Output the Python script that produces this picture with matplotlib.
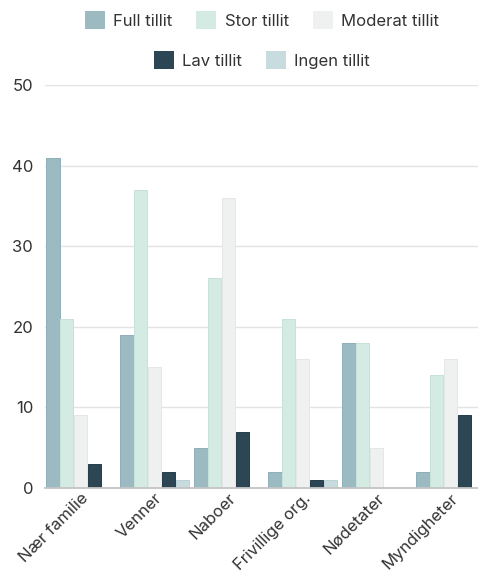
import matplotlib
matplotlib.use("Agg")
import matplotlib.pyplot as plt
from matplotlib.patches import Patch
import numpy as np

categories = ["Nær familie", "Venner", "Naboer", "Frivillige org.", "Nødetater", "Myndigheter"]
series_names = ["Full tillit", "Stor tillit", "Moderat tillit", "Lav tillit", "Ingen tillit"]
full = [41, 19, 5, 2, 18, 2]
stor = [21, 37, 26, 21, 18, 14]
moderat = [9, 15, 36, 16, 5, 16]
lav = [3, 2, 7, 1, 0, 9]
ingen = [0, 1, 0, 1, 0, 0]
y_ticks = [0, 10, 20, 30, 40, 50]

colors = ["#9bbac2", "#d3ebe3", "#eff1f0", "#2d4654", "#c8dcdf"]
edges = ["#8eafb8", "#c6e2d9", "#e4e7e6", "#263d4a", "#bbd2d6"]

plt.rcParams["font.family"] = ["Inter", "DejaVu Sans"]
fs = 12

fig = plt.figure(figsize=(4.78, 5.75), dpi=100)
ax = fig.add_axes([45 / 478, 87 / 575, 433 / 478, 403 / 575])

x = np.arange(len(categories))
step = 0.1865
bw = 0.178
all_series = [full, stor, moderat, lav, ingen]
for i, vals in enumerate(all_series):
    ax.bar(x + (i - 2) * step, vals, width=bw, color=colors[i],
           edgecolor=edges[i], linewidth=0.7, zorder=3)

ax.set_ylim(0, 50)
ax.set_xlim(-0.48, 5.37)
ax.set_yticks(y_ticks)
ax.set_yticklabels([str(t) for t in y_ticks], fontsize=fs, color="#333333")
ax.set_xticks(x)
ax.set_xticklabels(categories, rotation=45, ha="right", va="top",
                   rotation_mode="anchor", fontsize=fs, color="#333333")
ax.tick_params(axis="both", length=0)
ax.tick_params(axis="y", pad=8.5)
ax.tick_params(axis="x", pad=2)
ax.grid(axis="y", color="#e3e3e3", linewidth=1, zorder=0)
for s in ["top", "right", "left"]:
    ax.spines[s].set_visible(False)
ax.spines["bottom"].set_color("#c4c4c4")
ax.spines["bottom"].set_linewidth(1.3)
ax.spines["bottom"].set_zorder(4)

handles = [Patch(facecolor=colors[i], edgecolor="none", label=series_names[i]) for i in range(5)]
leg_kw = dict(frameon=False, fontsize=fs, handlelength=1.2, handleheight=1.2,
              handletextpad=0.5, columnspacing=1.45, borderpad=0, labelcolor="#333333")
leg1 = fig.legend(handles=handles[:3], ncol=3, loc="center",
                  bbox_to_anchor=(262 / 478, 1 - 20 / 575), **leg_kw)
leg2 = fig.legend(handles=handles[3:], ncol=2, loc="center",
                  bbox_to_anchor=(262 / 478, 1 - 60 / 575), **leg_kw)

plt.savefig("out.png", dpi=100)
plt.close()
